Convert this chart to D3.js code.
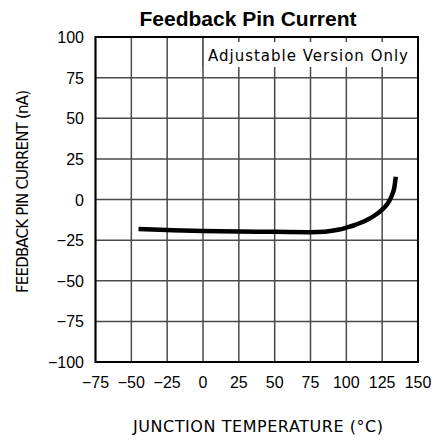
<!DOCTYPE html>
<html lang="en">
<head>
<meta charset="UTF-8">
<title>Feedback Pin Current</title>
<style>
  body { margin: 0; background: #fff; }
  svg { display: block; }
</style>
</head>
<body>
<div id="chart"></div>
<script src="https://cdn.jsdelivr.net/npm/d3@7"></script>
<script>
// data
var temps   = [-45, -25, 0, 25, 50, 75, 85, 95, 100, 105, 110, 115, 120, 125, 128, 130, 132, 133.5, 134.5];
var current = [-18.2, -18.8, -19.4, -19.7, -19.9, -20.1, -19.8, -18.5, -17.3, -16.0, -14.3, -12.3, -9.7, -6.2, -3.5, -0.8, 3, 7.5, 14];
var xTicks = [-75, -50, -25, 0, 25, 50, 75, 100, 125, 150];
var yTicks = [-100, -75, -50, -25, 0, 25, 50, 75, 100];

var w = 433, h = 442;
var plotL = 95.5, plotR = 418, plotT = 37, plotB = 362;

var svg = d3.select('#chart').append('svg').attr('width', w).attr('height', h);

var x = d3.scaleLinear().domain([-75, 150]).range([plotL, plotR]);
var y = d3.scaleLinear().domain([-100, 100]).range([plotB, plotT]);

var gridColor = '#4a4a4a';

// grid
svg.append('g').selectAll('line').data(xTicks).join('line')
    .attr('x1', d => x(d)).attr('x2', d => x(d))
    .attr('y1', plotT).attr('y2', plotB)
    .style('stroke', gridColor).style('stroke-width', 1.5);
svg.append('g').selectAll('line').data(yTicks).join('line')
    .attr('x1', plotL).attr('x2', plotR)
    .attr('y1', d => y(d)).attr('y2', d => y(d))
    .style('stroke', gridColor).style('stroke-width', 1.5);

// white box for the note, with short tick stubs along the top
var boxBottom = 67;
var inner = xTicks.filter(d => d > 0 && d < 150);
svg.append('rect')
    .attr('x', x(0)).attr('y', plotT)
    .attr('width', plotR - x(0)).attr('height', boxBottom - plotT)
    .style('fill', '#fff');
svg.append('g').selectAll('line').data(inner).join('line')
    .attr('x1', d => x(d)).attr('x2', d => x(d))
    .attr('y1', plotT).attr('y2', plotT + 5)
    .style('stroke', gridColor).style('stroke-width', 1.5);
svg.append('line')
    .attr('x1', x(0)).attr('x2', x(0)).attr('y1', plotT).attr('y2', boxBottom)
    .style('stroke', gridColor).style('stroke-width', 1.5);

svg.append('text')
    .attr('x', 208).attr('y', 61)
    .attr('textLength', 200).attr('lengthAdjust', 'spacing')
    .style('font-family', 'DejaVu Sans, sans-serif').style('font-size', '15px')
    .text('Adjustable Version Only');

// frame
svg.append('rect')
    .attr('x', plotL).attr('y', plotT)
    .attr('width', plotR - plotL).attr('height', plotB - plotT)
    .style('fill', 'none').style('stroke', '#000').style('stroke-width', 2);

// curve
var line = d3.line()
    .x((d, i) => x(temps[i]))
    .y(d => y(d))
    .curve(d3.curveMonotoneX);
svg.append('path')
    .datum(current)
    .attr('d', line)
    .style('fill', 'none').style('stroke', '#000').style('stroke-width', 4.5);

// tick labels
svg.append('g').selectAll('text').data(xTicks).join('text')
    .attr('x', d => x(d)).attr('y', 388)
    .attr('text-anchor', 'middle')
    .style('font-family', 'Liberation Sans, Arial, sans-serif').style('font-size', '16px')
    .text(d => d < 0 ? '\u2212' + Math.abs(d) : d);
svg.append('g').selectAll('text').data(yTicks).join('text')
    .attr('x', 84).attr('y', d => y(d) + 6)
    .attr('text-anchor', 'end')
    .style('font-family', 'Liberation Sans, Arial, sans-serif').style('font-size', '16px')
    .text(d => d < 0 ? '\u2212' + Math.abs(d) : d);

// titles
svg.append('text')
    .attr('x', 248).attr('y', 26)
    .attr('text-anchor', 'middle')
    .style('font-family', 'Liberation Sans, Arial, sans-serif').style('font-size', '21px').style('font-weight', 'bold')
    .text('Feedback Pin Current');

svg.append('text')
    .attr('x', 133).attr('y', 432)
    .attr('textLength', 250).attr('lengthAdjust', 'spacing')
    .style('font-family', 'DejaVu Sans, sans-serif').style('font-size', '16px')
    .text('JUNCTION TEMPERATURE (\u00B0C)');

svg.append('text')
    .attr('transform', 'translate(28,293) rotate(-90)')
    .attr('textLength', 203).attr('lengthAdjust', 'spacing')
    .style('font-family', 'DejaVu Sans, sans-serif').style('font-size', '15px')
    .text('FEEDBACK PIN CURRENT (nA)');
</script>
</body>
</html>
